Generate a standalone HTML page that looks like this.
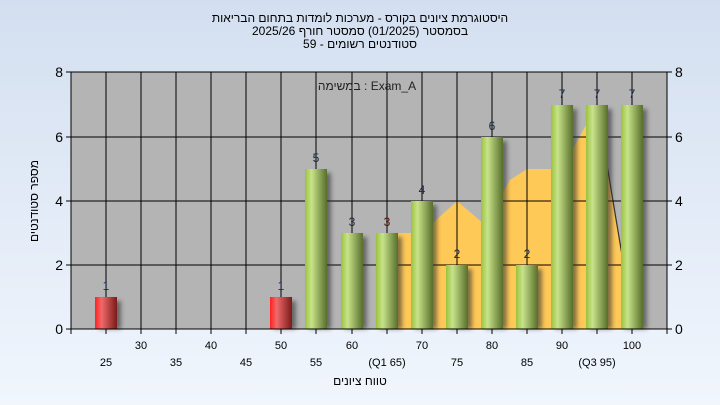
<!DOCTYPE html><html><head><meta charset="utf-8"><style>body{margin:0}svg{display:block}text{font-family:"Liberation Sans","DejaVu Sans",sans-serif}</style></head><body>
<svg width="720" height="405" xmlns="http://www.w3.org/2000/svg">
<defs>
<linearGradient id="bg" x1="0" y1="0" x2="0" y2="1"><stop offset="0" stop-color="#d3dff0"/><stop offset="1" stop-color="#f1f6fd"/></linearGradient>
<linearGradient id="g" x1="0" y1="0" x2="1" y2="0"><stop offset="0" stop-color="#9cc23e"/><stop offset="0.3" stop-color="#c8e38a"/><stop offset="1" stop-color="#566e2a"/></linearGradient>
<linearGradient id="r" x1="0" y1="0" x2="1" y2="0"><stop offset="0" stop-color="#ff2020"/><stop offset="0.3" stop-color="#f06a6a"/><stop offset="1" stop-color="#7a1a1a"/></linearGradient>
<filter id="sh" x="-20%" y="-5%" width="160%" height="110%"><feGaussianBlur stdDeviation="2"/></filter>
</defs>
<rect width="720" height="405" fill="url(#bg)"/>
<g font-size="12" text-anchor="middle" fill="#000">
<text x="360" y="22">היסטוגרמת ציונים בקורס - מערכות לומדות בתחום הבריאות</text>
<text x="360" y="35">בסמסטר  (01/2025)  סמסטר חורף 2025/26</text>
<text x="360" y="48">סטודנטים רשומים - 59</text>
</g>
<rect x="71" y="72" width="596" height="257" fill="#b4b4b4"/>
<polygon points="387,329 387,233 422,233 457,201 484,224 510,180 527,169 562,169 597,105 622,255 622,329" fill="#ffc957"/>
<line x1="597" y1="105" x2="622" y2="255" stroke="#333" stroke-width="1.2"/>
<g stroke="#000" stroke-width="1">
<line x1="71" y1="72" x2="667" y2="72"/><line x1="71" y1="137" x2="667" y2="137"/><line x1="71" y1="201" x2="667" y2="201"/><line x1="71" y1="265" x2="667" y2="265"/>
<line x1="106" y1="72" x2="106" y2="329"/><line x1="141" y1="72" x2="141" y2="329"/><line x1="176" y1="72" x2="176" y2="329"/><line x1="211" y1="72" x2="211" y2="329"/><line x1="246" y1="72" x2="246" y2="329"/><line x1="281" y1="72" x2="281" y2="329"/><line x1="316" y1="72" x2="316" y2="329"/><line x1="352" y1="72" x2="352" y2="329"/><line x1="387" y1="72" x2="387" y2="329"/><line x1="422" y1="72" x2="422" y2="329"/><line x1="457" y1="72" x2="457" y2="329"/><line x1="492" y1="72" x2="492" y2="329"/><line x1="527" y1="72" x2="527" y2="329"/><line x1="562" y1="72" x2="562" y2="329"/><line x1="597" y1="72" x2="597" y2="329"/><line x1="632" y1="72" x2="632" y2="329"/>
</g>
<g id="bars">
<g fill="#333" opacity="0.6" filter="url(#sh)">
<rect x="99" y="301" width="22" height="28"/><rect x="274" y="301" width="22" height="28"/><rect x="309" y="173" width="22" height="156"/><rect x="345" y="237" width="22" height="92"/><rect x="380" y="237" width="22" height="92"/><rect x="415" y="205" width="22" height="124"/><rect x="450" y="269" width="22" height="60"/><rect x="485" y="141" width="22" height="188"/><rect x="520" y="269" width="22" height="60"/><rect x="555" y="109" width="22" height="220"/><rect x="590" y="109" width="22" height="220"/><rect x="625" y="109" width="22" height="220"/>
</g>
<rect x="95" y="297" width="22" height="32" fill="url(#r)"/><rect x="270" y="297" width="22" height="32" fill="url(#r)"/>
<g fill="url(#g)">
<rect x="305" y="169" width="22" height="160"/><rect x="341" y="233" width="22" height="96"/><rect x="376" y="233" width="22" height="96"/><rect x="411" y="201" width="22" height="128"/><rect x="446" y="265" width="22" height="64"/><rect x="481" y="137" width="22" height="192"/><rect x="516" y="265" width="22" height="64"/><rect x="551" y="105" width="22" height="224"/><rect x="586" y="105" width="22" height="224"/><rect x="621" y="105" width="22" height="224"/>
</g>
</g>
<g font-size="12" text-anchor="middle" fill="#1a2a4a">
<text x="106" y="290">1</text><text x="281" y="290">1</text><text x="316" y="162">5</text><text x="352" y="226">3</text><text x="387" y="226" fill="#5a1010">3</text><text x="422" y="194">4</text><text x="457" y="258">2</text><text x="492" y="130">6</text><text x="527" y="258">2</text><text x="562" y="98">7</text><text x="597" y="98">7</text><text x="632" y="98">7</text>
</g>
<text x="367" y="90" font-size="12" text-anchor="middle" fill="#222">במשימה : Exam_A</text>
<g stroke="#000"><line x1="71" y1="72" x2="71" y2="329"/><line x1="667" y1="72" x2="667" y2="329"/><line x1="71" y1="329" x2="667" y2="329"/>
<line x1="66" y1="72" x2="71" y2="72"/><line x1="66" y1="137" x2="71" y2="137"/><line x1="66" y1="201" x2="71" y2="201"/><line x1="66" y1="265" x2="71" y2="265"/><line x1="66" y1="329" x2="71" y2="329"/>
<line x1="667" y1="72" x2="672" y2="72"/><line x1="667" y1="137" x2="672" y2="137"/><line x1="667" y1="201" x2="672" y2="201"/><line x1="667" y1="265" x2="672" y2="265"/><line x1="667" y1="329" x2="672" y2="329"/>
<line x1="71" y1="329" x2="71" y2="334"/><line x1="106" y1="329" x2="106" y2="334"/><line x1="141" y1="329" x2="141" y2="334"/><line x1="176" y1="329" x2="176" y2="334"/><line x1="211" y1="329" x2="211" y2="334"/><line x1="246" y1="329" x2="246" y2="334"/><line x1="281" y1="329" x2="281" y2="334"/><line x1="316" y1="329" x2="316" y2="334"/><line x1="352" y1="329" x2="352" y2="334"/><line x1="387" y1="329" x2="387" y2="334"/><line x1="422" y1="329" x2="422" y2="334"/><line x1="457" y1="329" x2="457" y2="334"/><line x1="492" y1="329" x2="492" y2="334"/><line x1="527" y1="329" x2="527" y2="334"/><line x1="562" y1="329" x2="562" y2="334"/><line x1="597" y1="329" x2="597" y2="334"/><line x1="632" y1="329" x2="632" y2="334"/><line x1="667" y1="329" x2="667" y2="334"/></g>
<g font-size="14" fill="#000"><g text-anchor="end"><text x="63" y="77">8</text><text x="63" y="142">6</text><text x="63" y="206">4</text><text x="63" y="270">2</text><text x="63" y="334">0</text></g>
<text x="675" y="77">8</text><text x="675" y="142">6</text><text x="675" y="206">4</text><text x="675" y="270">2</text><text x="675" y="334">0</text></g>
<g font-size="11" text-anchor="middle" fill="#000">
<text x="141" y="349">30</text><text x="211" y="349">40</text><text x="281" y="349">50</text><text x="352" y="349">60</text><text x="422" y="349">70</text><text x="492" y="349">80</text><text x="562" y="349">90</text><text x="632" y="349">100</text>
<text x="106" y="366">25</text><text x="176" y="366">35</text><text x="246" y="366">45</text><text x="316" y="366">55</text><text x="387" y="366">(Q1 65)</text><text x="457" y="366">75</text><text x="527" y="366">85</text><text x="597" y="366">(Q3 95)</text>
<text x="360" y="385" font-size="12">טווח ציונים</text>
<text transform="translate(38,201) rotate(-90)" font-size="12">מספר סטודנטים</text>
</g>
</svg></body></html>
